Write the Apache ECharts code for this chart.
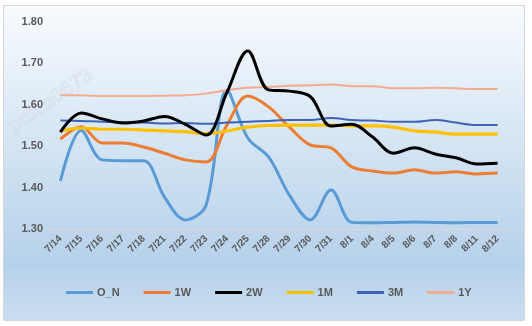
<!DOCTYPE html>
<html>
<head>
<meta charset="utf-8">
<script src="https://cdn.jsdelivr.net/npm/echarts@6/dist/echarts.min.js"></script>
<style>html,body{margin:0;padding:0;background:#fff}#c{width:532px;height:326px}</style>
</head>
<body>
<div id="c"></div>
<script>
var categories = ['7/14','7/15','7/16','7/17','7/18','7/21','7/22','7/23','7/24','7/25','7/28','7/29','7/30','7/31','8/1','8/4','8/5','8/6','8/7','8/8','8/11','8/12'];
var yTicks = {min: 1.30, max: 1.80, interval: 0.10};
var seriesNames = ['O_N','1W','2W','1M','3M','1Y'];
var O_N = [1.416,1.538,1.467,1.465,1.465,1.377,1.322,1.358,1.635,1.520,1.474,1.382,1.322,1.394,1.316,1.315,1.316,1.317,1.316,1.315,1.316,1.316];
var W1  = [1.517,1.547,1.508,1.508,1.498,1.483,1.467,1.462,1.551,1.621,1.595,1.546,1.503,1.496,1.450,1.440,1.435,1.443,1.435,1.438,1.433,1.435];
var W2  = [1.534,1.580,1.566,1.556,1.561,1.572,1.553,1.527,1.630,1.730,1.636,1.633,1.620,1.549,1.553,1.522,1.483,1.496,1.481,1.472,1.457,1.459];
var M1  = [1.537,1.544,1.541,1.541,1.539,1.537,1.535,1.530,1.537,1.546,1.550,1.551,1.551,1.551,1.549,1.549,1.546,1.537,1.534,1.529,1.529,1.529];
var M3  = [1.562,1.561,1.559,1.558,1.557,1.555,1.556,1.554,1.557,1.559,1.561,1.563,1.563,1.568,1.563,1.562,1.559,1.559,1.563,1.557,1.551,1.551];
var Y1  = [1.623,1.623,1.621,1.621,1.621,1.622,1.623,1.627,1.635,1.641,1.643,1.646,1.647,1.649,1.645,1.645,1.640,1.640,1.641,1.640,1.638,1.638];

var colors = ['#5b9bd5','#ed7d31','#000000','#ffc000','#3f63b4','#f4ac8f'];
var widths = [3,3,3,3.2,2,2];
var dataSets = [O_N,W1,W2,M1,M3,Y1];

var chart = echarts.init(document.getElementById('c'), null, {renderer:'canvas'});
var txt = '#595959';
var font = 'Liberation Sans';
chart.setOption({
  backgroundColor: '#ffffff',
  animation: false,
  graphic: [
    {type:'rect', z:-10, silent:true, shape:{x:3.5,y:5.5,width:521,height:315},
     style:{fill:new echarts.graphic.LinearGradient(0,0,0,1,[{offset:0,color:'#f8fbfe'},{offset:0.82,color:'#b5d1ea'},{offset:1,color:'#cbdef0'}]),
            stroke:'#d6d6d6', lineWidth:1}},
    {type:'text', z:-5, silent:true, x:16, y:136, rotation:0.6,
     style:{text:'pulan0673', fontFamily:'DejaVu Serif', fontSize:18, fill:'rgba(255,255,255,0.25)', stroke:'rgba(150,165,185,0.22)', lineWidth:1, textVerticalAlign:'bottom'}}
  ],
  grid: {left:50, right:24, top:22, bottom:97, containLabel:false},
  legend: {
    data: seriesNames, left:61, top:282, itemWidth:27, itemHeight:3, itemGap:24, icon:'rect',
    textStyle:{color:txt, fontSize:11, fontWeight:'bold', fontFamily:font, padding:[0,0,0,-1]}
  },
  xAxis: {
    type:'category', data:categories, boundaryGap:true,
    axisLine:{show:true, lineStyle:{color:'#d9d9d9', width:1}},
    axisTick:{show:true, length:4, lineStyle:{color:'#d9d9d9'}},
    axisLabel:{rotate:45, color:txt, fontSize:10, fontWeight:'bold', fontFamily:font, margin:8, interval:0},
    splitLine:{show:false}
  },
  yAxis: {
    type:'value', min:yTicks.min, max:yTicks.max, interval:yTicks.interval,
    axisLine:{show:false}, axisTick:{show:false}, splitLine:{show:false},
    axisLabel:{color:txt, fontSize:11, fontWeight:'bold', fontFamily:font, margin:7,
      formatter:function(v){return v.toFixed(2);}}
  },
  series: seriesNames.map(function(n,i){
    return {name:n, type:'line', data:dataSets[i], smooth:0.35, symbol:'none',
      lineStyle:{color:colors[i], width:widths[i]}, itemStyle:{color:colors[i]}, z:2+(i===2?3:0)};
  })
});
</script>
</body>
</html>
